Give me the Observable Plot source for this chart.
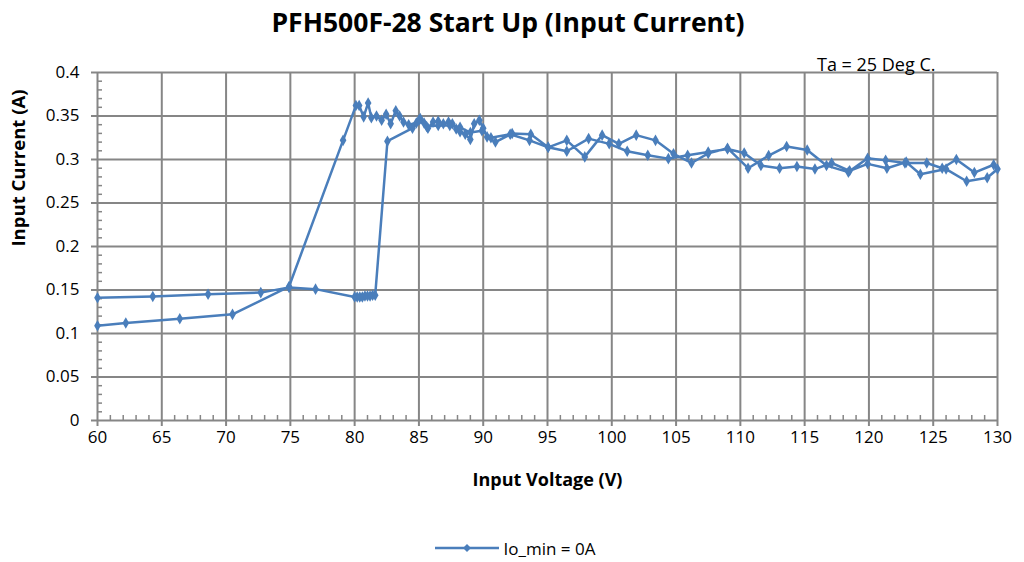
<!DOCTYPE html>
<html>
<head>
<meta charset="utf-8">
<script src="https://cdn.jsdelivr.net/npm/d3@7"></script>
<script src="https://cdn.jsdelivr.net/npm/@observablehq/plot@0.6"></script>
<style>
  html, body { margin: 0; padding: 0; background: #fff; }
  body { width: 1024px; height: 562px; overflow: hidden; font-family: "Open Sans", sans-serif; }
  #title { height: 44px; line-height: 44px; text-align: center; font-weight: bold; font-size: 26.5px; color: #000; padding-right: 8px; box-sizing: border-box; white-space: nowrap; }
  #legend { height: 56px; display: flex; align-items: center; justify-content: center; font-size: 17px; color: #000; padding-left: 6px; box-sizing: border-box; }
  #legend svg { margin-right: 5px; }
</style>
</head>
<body>
<div id="title"></div>
<div id="chart"></div>
<div id="legend"></div>
<script>
// Rising sweep (input voltage increasing)
const upVoltage = [60, 62.2, 66.4, 70.5, 74.9, 79.1, 80.1, 80.35, 80.7, 81.05, 81.3, 81.7, 82.1, 82.45, 82.8, 83.2, 83.5, 83.8, 84.2, 84.8, 85.1, 85.4, 85.7, 86.1, 86.5, 86.9, 87.3, 87.6, 87.9, 88.2, 88.6, 89.0, 89.3, 89.7, 90.0, 90.3, 90.95, 92.25, 93.7, 95.05, 96.5, 97.9, 99.25, 100.55, 101.9, 103.4, 104.8, 106.2, 107.5, 109.0, 110.6, 112.2, 113.6, 115.2, 116.7, 118.4, 119.9, 121.3, 122.8, 124.5, 125.7, 126.8, 128.2, 129.7, 130];
const upCurrent = [0.109, 0.112, 0.117, 0.122, 0.154, 0.322, 0.362, 0.362, 0.349, 0.365, 0.348, 0.350, 0.345, 0.352, 0.341, 0.356, 0.350, 0.343, 0.340, 0.342, 0.347, 0.342, 0.336, 0.343, 0.344, 0.341, 0.343, 0.341, 0.335, 0.332, 0.329, 0.323, 0.341, 0.345, 0.336, 0.326, 0.320, 0.330, 0.329, 0.314, 0.322, 0.303, 0.328, 0.318, 0.328, 0.322, 0.3065, 0.296, 0.307, 0.313, 0.290, 0.3045, 0.315, 0.311, 0.293, 0.2855, 0.3015, 0.299, 0.296, 0.296, 0.290, 0.300, 0.285, 0.294, 0.289];
// Falling sweep (input voltage decreasing)
const downVoltage = [129.2, 127.6, 126.0, 124.0, 122.9, 121.4, 119.9, 118.5, 117.1, 115.8, 114.4, 113.05, 111.6, 110.3, 109.0, 107.5, 105.9, 104.4, 102.8, 101.2, 99.8, 98.2, 96.5, 95.05, 93.6, 92.1, 90.6, 89.9, 89.0, 88.2, 87.4, 86.5, 85.6, 85.0, 84.5, 82.55, 81.6, 81.4, 81.2, 81.0, 80.8, 80.6, 80.4, 80.2, 80.0, 76.96, 74.9, 72.7, 68.6, 64.3, 60];
const downCurrent = [0.279, 0.275, 0.289, 0.283, 0.297, 0.290, 0.295, 0.287, 0.296, 0.289, 0.292, 0.290, 0.293, 0.3075, 0.312, 0.3085, 0.305, 0.301, 0.305, 0.3095, 0.318, 0.324, 0.3095, 0.314, 0.322, 0.329, 0.325, 0.333, 0.331, 0.337, 0.339, 0.339, 0.338, 0.345, 0.336, 0.321, 0.144, 0.144, 0.143, 0.143, 0.143, 0.142, 0.142, 0.142, 0.142, 0.151, 0.153, 0.147, 0.145, 0.1425, 0.141];

const xTicks = [60, 65, 70, 75, 80, 85, 90, 95, 100, 105, 110, 115, 120, 125, 130];
const yTicks = [0, 0.05, 0.1, 0.15, 0.2, 0.25, 0.3, 0.35, 0.4];
const xMinor = d3.range(60, 131, 1).filter(v => v % 5 !== 0);
const yMinor = d3.range(0, 41, 1).filter(v => v % 5 !== 0).map(v => v / 100);

const seriesName = "Io_min = 0A";
const titleText = "PFH500F-28 Start Up (Input Current)";
const noteText = "Ta = 25 Deg C.";
const xLabel = "Input Voltage (V)";
const yLabel = "Input Current (A)";

const data = [
  ...upVoltage.map((v, i) => ({v, a: upCurrent[i]})),
  ...downVoltage.map((v, i) => ({v, a: downCurrent[i]}))
];

const blue = "#4A7EBB";
const gridColor = "#868686";
const font = "'Open Sans', sans-serif";

const chart = Plot.plot({
  width: 1024,
  height: 476,
  marginLeft: 97,
  marginRight: 27,
  marginTop: 28,
  marginBottom: 100,
  style: {fontFamily: font, fontSize: "17px", color: "#000", background: "#fff"},
  x: {domain: [60, 130], label: null},
  y: {domain: [0, 0.4], label: null},
  marks: [
    Plot.ruleX(xTicks, {stroke: gridColor, strokeWidth: 2}),
    Plot.ruleY(yTicks, {stroke: gridColor, strokeWidth: 2}),
    Plot.axisX(xTicks, {tickSize: 6, tickPadding: 4, stroke: gridColor, strokeWidth: 2, fill: "#000", fontSize: 17, tickFormat: d => String(d), label: null}),
    Plot.axisX(xMinor, {tickSize: 5, dy: -5, stroke: gridColor, strokeWidth: 1.5, tickFormat: () => "", label: null}),
    Plot.axisY(yTicks, {tickSize: 6, tickPadding: 12, stroke: gridColor, strokeWidth: 2, fill: "#000", fontSize: 17, tickFormat: d => String(d), label: null}),
    Plot.axisY(yMinor, {tickSize: 5, dx: 5, stroke: gridColor, strokeWidth: 1.5, tickFormat: () => "", label: null}),
    Plot.line(data, {x: "v", y: "a", stroke: blue, strokeWidth: 2.5, clip: true}),
    Plot.dot(data, {x: "v", y: "a", symbol: "diamond", r: 3.5, fill: blue, stroke: null}),
    Plot.text([noteText], {text: d => d, frameAnchor: "top-right", textAnchor: "end", dx: -62, dy: -14, fontSize: 18, fill: "#000"}),
    Plot.text([xLabel], {text: d => d, frameAnchor: "bottom", dy: 65, fontSize: 18, fontWeight: "bold", fill: "#000"}),
    Plot.text([yLabel], {text: d => d, frameAnchor: "left", dx: -78, rotate: -90, fontSize: 18.5, fontWeight: "bold", fill: "#000"})
  ]
});
document.getElementById("chart").appendChild(chart);
document.getElementById("title").textContent = titleText;

const legend = document.getElementById("legend");
legend.innerHTML = `<svg width="64" height="12"><line x1="0" y1="6" x2="64" y2="6" stroke="${blue}" stroke-width="2.5"/><path d="M32,2 L36,6 L32,10 L28,6 Z" fill="${blue}"/></svg><span></span>`;
legend.querySelector("span").textContent = seriesName;
</script>
</body>
</html>
